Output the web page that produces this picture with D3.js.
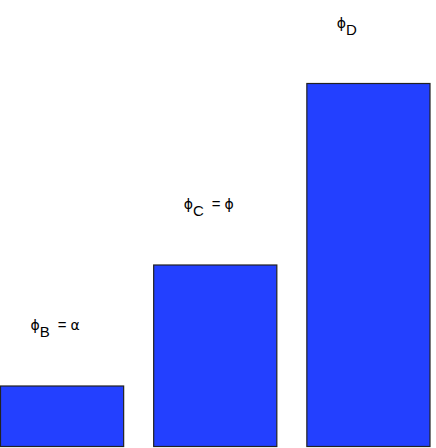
<!DOCTYPE html>
<html>
<head>
<meta charset="utf-8">
<script src="https://cdn.jsdelivr.net/npm/d3@7"></script>
<style>
  body { margin: 0; background: #fff; }
  text { font-family: "Liberation Sans", Arial, sans-serif; font-size: 15px; fill: #000; }
</style>
</head>
<body>
<div id="chart"></div>
<script>
const categories = ["B", "C", "D"];
const values = [1, 3, 6];
const labelSubs = ["B", "C", "D"];
const labelTails = ["=", "=", ""];
const labelRhs = ["α", "ϕ", ""];

const width = 436, height = 448;

const svg = d3.select("#chart")
  .append("svg")
  .attr("width", width)
  .attr("height", height);

const x = d3.scaleBand()
  .domain(categories)
  .range([0.5, 430])
  .paddingInner(0.196)
  .paddingOuter(0);

const y = d3.scaleLinear()
  .domain([0, 6])
  .range([446.5, 83.5]);

// bars
svg.selectAll("rect")
  .data(categories)
  .enter()
  .append("rect")
  .attr("x", d => x(d))
  .attr("y", (d, i) => y(values[i]))
  .attr("width", x.bandwidth())
  .attr("height", (d, i) => y(0) - y(values[i]))
  .attr("fill", "#2340ff")
  .attr("stroke", "#222")
  .attr("stroke-width", 1.2);

// labels above bars
const lbl = svg.selectAll(".lbl")
  .data(categories)
  .enter()
  .append("text")
  .attr("class", "lbl")
  .attr("x", d => x(d) + 30)
  .attr("y", (d, i) => y(values[i]) - 56);

lbl.append("tspan")
  .style("font-family", "'DejaVu Sans'")
  .style("font-size", "14px")
  .text("ϕ");
lbl.append("tspan")
  .attr("dy", 7)
  .text((d, i) => labelSubs[i]);
lbl.append("tspan")
  .attr("dy", -7)
  .attr("dx", 8)
  .text((d, i) => labelTails[i]);
lbl.append("tspan")
  .attr("dx", 4)
  .style("font-family", "'DejaVu Sans'")
  .style("font-size", "14px")
  .text((d, i) => labelRhs[i]);
</script>
</body>
</html>
